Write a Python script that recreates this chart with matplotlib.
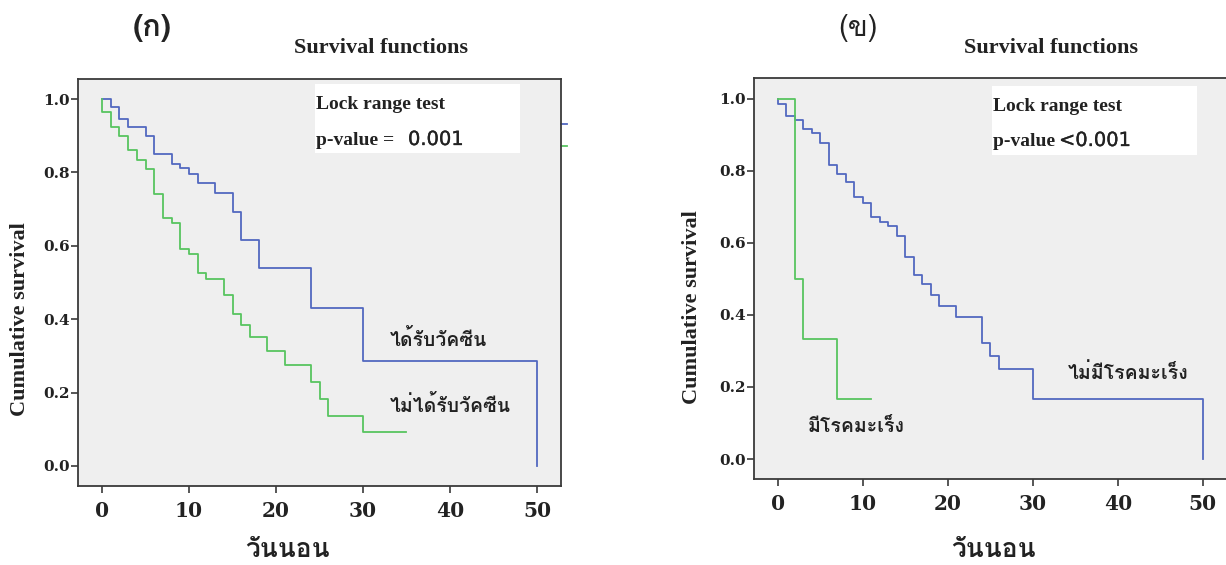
import matplotlib
matplotlib.use("Agg")
import matplotlib.pyplot as plt
from matplotlib import font_manager as fm
from matplotlib.patches import Rectangle
import matplotlib.patheffects as pe

# ---------------- data ----------------
# Panel (ก): vaccinated vs not vaccinated
vac_time = [0, 1, 2, 3, 5, 6, 8, 9, 10, 11, 13, 15, 16, 18, 24, 30, 50]
vac_surv = [1.0, 0.979, 0.946, 0.924, 0.899, 0.849, 0.824, 0.811, 0.797,
            0.772, 0.745, 0.692, 0.615, 0.539, 0.431, 0.287, 0.0]
novac_time = [0, 0, 1, 2, 3, 4, 5, 6, 7, 8, 9, 10, 11, 12, 14, 15, 16, 17,
              19, 21, 24, 25, 26, 30, 35]
novac_surv = [1.0, 0.964, 0.924, 0.898, 0.860, 0.835, 0.808, 0.742, 0.675,
              0.661, 0.591, 0.578, 0.527, 0.510, 0.465, 0.413, 0.384, 0.352,
              0.313, 0.274, 0.228, 0.183, 0.136, 0.092, 0.092]
# Panel (ข): cancer vs no cancer
nocan_time = [0, 0, 1, 2, 3, 4, 5, 6, 7, 8, 9, 10, 11, 12, 13, 14, 15, 16,
              17, 18, 19, 21, 24, 25, 26, 30, 50]
nocan_surv = [1.0, 0.984, 0.953, 0.941, 0.916, 0.904, 0.878, 0.817, 0.790,
              0.768, 0.727, 0.711, 0.671, 0.659, 0.646, 0.619, 0.560, 0.511,
              0.486, 0.456, 0.426, 0.394, 0.321, 0.287, 0.250, 0.167, 0.0]
can_time = [0, 2, 3, 7, 11]
can_surv = [1.0, 0.5, 0.333, 0.167, 0.167]

x_ticks = [0, 10, 20, 30, 40, 50]
y_ticks = [0.0, 0.2, 0.4, 0.6, 0.8, 1.0]
y_ticklabels = ["0.0", "0.2", "0.4", "0.6", "0.8", "1.0"]

panel_labels = ["(ก)", "(ข)"]
title = "Survival functions"
xlabel = "วันนอน"
ylabel = "Cumulative survival"
test_name = "Lock range test"
pval_prefix = ["p-value = ", "p-value "]
pval_value = ["0.001", "<0.001"]
group_labels_a = ["ได้รับวัคซีน", "ไม่ได้รับวัคซีน"]
group_labels_b = ["ไม่มีโรคมะเร็ง", "มีโรคมะเร็ง"]

# ---------------- fonts ----------------
def find_thai_fonts():
    paths_ok = set()
    try:
        from fontTools.ttLib import TTFont
    except Exception:
        return [], set()
    paths = set(f.fname for f in fm.fontManager.ttflist)
    try:
        paths |= set(fm.findSystemFonts())
    except Exception:
        pass
    for p in sorted(paths):
        try:
            tt = TTFont(p, fontNumber=0, lazy=True)
            cmap = tt.getBestCmap()
            if cmap and 0x0E01 in cmap and 0x0E27 in cmap:
                paths_ok.add(p)
                try:
                    fm.fontManager.addfont(p)
                except Exception:
                    pass
        except Exception:
            pass
    names, bold = [], set()
    for f in fm.fontManager.ttflist:
        if f.fname in paths_ok:
            if f.name not in names:
                names.append(f.name)
            w = f.weight
            if (isinstance(w, int) and w >= 600) or str(w).lower() in (
                    "bold", "semibold", "demibold", "heavy", "black",
                    "extra bold", "demi bold"):
                bold.add(f.name)
    return names, bold

thai, thai_bold = find_thai_fonts()
pref = ["Noto Serif Thai", "Noto Sans Thai Looped", "Norasi", "Kinnari",
        "Loma", "Garuda", "Sarabun", "Noto Sans Thai"]
ordered = [n for n in pref if n in thai] + [n for n in thai if n not in pref]
with_bold = [n for n in ordered if n in thai_bold]
main_thai = with_bold[0] if with_bold else (ordered[0] if ordered else "DejaVu Sans")
HAS_BOLD = main_thai in thai_bold
THAI = [main_thai] + [n for n in ordered if n != main_thai] + ["DejaVu Sans"]
SERIF = ["Liberation Serif", "DejaVu Serif"]
TICKF = ["DejaVu Serif"]
INK = "#222222"

def thai_bold_kw(stroke=0.9):
    if HAS_BOLD:
        return dict(fontweight="bold")
    return dict(path_effects=[pe.withStroke(linewidth=stroke, foreground=INK)])

W, H = 1226, 565
fig = plt.figure(figsize=(W / 100, H / 100), dpi=100)
fig.patch.set_facecolor("white")

def fx(px):
    return px / W

def fy(py):
    return 1 - py / H

BLUE = "#5268c0"
GREEN = "#58c460"
BG = "#efefef"
SPINE = "#3a3a3a"

def make_axes(l, t, r, b, xlim, ylim):
    ax = fig.add_axes([fx(l), fy(b), fx(r) - fx(l), fy(t) - fy(b)])
    ax.set_facecolor(BG)
    ax.set_xlim(*xlim)
    ax.set_ylim(*ylim)
    ax.set_xticks(x_ticks)
    ax.set_xticklabels([str(v) for v in x_ticks], fontfamily=TICKF,
                       fontweight="bold", fontsize=14.5, color=INK)
    ax.set_yticks(y_ticks)
    ax.set_yticklabels(y_ticklabels, fontfamily=TICKF, fontweight="bold",
                       fontsize=11, color=INK)
    ax.tick_params(axis="x", length=5, width=1.2, color=SPINE, pad=6)
    ax.tick_params(axis="y", length=5, width=1.2, color=SPINE, pad=1)
    for s in ax.spines.values():
        s.set_color(SPINE)
        s.set_linewidth(1.3)
    return ax

axA = make_axes(78, 79, 561, 486, (-2.76, 52.76), (-0.0545, 1.0545))
axB = make_axes(754, 78, 1227.5, 479, (-2.79, 52.9), (-0.0555, 1.0575))

axA.step(vac_time, vac_surv, where="post", color=BLUE, lw=1.3)
axA.step(novac_time, novac_surv, where="post", color=GREEN, lw=1.3)
axB.step(nocan_time, nocan_surv, where="post", color=BLUE, lw=1.3)
axB.step(can_time, can_surv, where="post", color=GREEN, lw=1.3)

# clipped legend stubs to the right of panel (ก)
axA.plot([1.0, 1.013], [0.889, 0.889], transform=axA.transAxes,
         color=BLUE, lw=1.3, clip_on=False)
axA.plot([1.0, 1.013], [0.835, 0.835], transform=axA.transAxes,
         color=GREEN, lw=1.3, clip_on=False)

def ftext(px, py, s, **kw):
    fig.text(fx(px), fy(py), s, **kw)

# panel labels and titles
ftext(152, 28, panel_labels[0], fontfamily=THAI, fontsize=22,
      ha="center", va="center", color=INK, **thai_bold_kw(1.2))
ftext(858, 28, panel_labels[1], fontfamily=THAI, fontsize=21,
      ha="center", va="center", color=INK)
for cx in (380.6, 1051):
    ftext(cx, 53, title, fontfamily=SERIF, fontweight="bold", fontsize=16,
          ha="center", va="baseline", color=INK)

# axis labels
for cx in (287, 993):
    ftext(cx, 550, xlabel, fontfamily=THAI, fontsize=19,
          ha="center", va="center", color=INK, **thai_bold_kw(1.1))
for cx, cy in ((20, 319), (692, 307)):
    ftext(cx, cy, ylabel, fontfamily=SERIF, fontweight="bold", fontsize=16,
          ha="center", va="center", rotation=90, color=INK)

# test boxes
for (x0, y0, x1, y1, b1, b2, vx, i) in ((315, 84, 520, 153, 109, 145, 408, 0),
                                       (992, 86, 1197, 155, 111, 146, 1059, 1)):
    fig.add_artist(Rectangle((fx(x0), fy(y1)), fx(x1) - fx(x0), fy(y0) - fy(y1),
                             transform=fig.transFigure, facecolor="white",
                             edgecolor="none", zorder=2))
    ftext(x0 + 1, b1, test_name, fontfamily=SERIF, fontweight="bold",
          fontsize=14, ha="left", va="baseline", color=INK, zorder=3)
    ftext(x0 + 1, b2, pval_prefix[i], fontfamily=SERIF, fontweight="bold",
          fontsize=14, ha="left", va="baseline", color=INK, zorder=3)
    ftext(vx, b2, pval_value[i], fontfamily=["DejaVu Sans"], fontsize=14,
          ha="left", va="baseline", color=INK, zorder=3,
          path_effects=[pe.withStroke(linewidth=0.25, foreground=INK)])

# group labels
gl = dict(fontfamily=THAI, fontsize=14, ha="left", va="baseline", color=INK)
ftext(390, 346, group_labels_a[0], **gl, **thai_bold_kw(0.7))
ftext(390, 412, group_labels_a[1], **gl, **thai_bold_kw(0.7))
ftext(1068, 379, group_labels_b[0], **gl, **thai_bold_kw(0.7))
ftext(808, 432, group_labels_b[1], **gl, **thai_bold_kw(0.7))

fig.savefig("out.png", dpi=100, facecolor="white")
